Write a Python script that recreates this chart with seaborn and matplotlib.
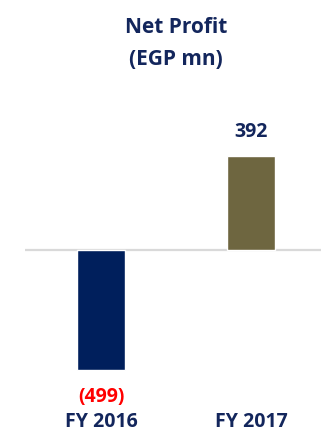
import matplotlib
matplotlib.use("Agg")
import matplotlib.pyplot as plt
import matplotlib.transforms as mtransforms
import seaborn as sns
import pandas as pd

categories = ["FY 2016", "FY 2017"]
net_profit = [-499, 392]
value_labels = ["(499)", "392"]
bar_colors = ["#001f5c", "#6e6640"]
label_colors = ["#ff0000", "#13265c"]

sns.set_theme(style="white")
plt.rcParams["font.family"] = ["Open Sans", "DejaVu Sans"]

navy = "#13265c"
W, H = 321, 433
fig = plt.figure(figsize=(W / 100, H / 100), dpi=100)

# axes box in pixels: left 25, right 321, top 100, bottom 380
ax = fig.add_axes([25 / W, 1 - 380 / H, 296 / W, 280 / H])

df = pd.DataFrame({"year": categories, "value": net_profit})
sns.barplot(data=df, x="year", y="value", hue="year", palette=bar_colors,
            width=0.32, legend=False, ax=ax, saturation=1, zorder=2)

px_per_unit = 94 / 392
ax.set_xlim(-76 / 150, 220 / 150)
ax.set_ylim(-130 / px_per_unit, 150 / px_per_unit)

ax.axhline(0, color="#d9d9d9", lw=1.6, zorder=1)

for s in ax.spines.values():
    s.set_visible(False)
ax.set_yticks([])
ax.set_xticks([])
ax.set_xlabel("")
ax.set_ylabel("")

font = dict(fontsize=14, fontweight="bold")

# value labels: 19 px above the positive bar, baseline 32 px below the negative one
for i, (v, lab, c) in enumerate(zip(net_profit, value_labels, label_colors)):
    off = 19 * 0.72 if v > 0 else -32 * 0.72
    ax.annotate(lab, (i, v), xytext=(0, off), textcoords="offset points",
                ha="center", va="baseline", color=c, annotation_clip=False, **font)

# category names along the bottom edge
trans = mtransforms.blended_transform_factory(ax.transData, fig.transFigure)
for i, cat in enumerate(categories):
    ax.text(i, 1 - 432 / H, cat, transform=trans, ha="center", va="bottom",
            color=navy, clip_on=False, **font)

fig.text(176 / W, 1 - 33 / H, "Net Profit", ha="center", va="baseline",
         color=navy, fontsize=15, fontweight="bold")
fig.text(176 / W, 1 - 65 / H, "(EGP mn)", ha="center", va="baseline",
         color=navy, fontsize=15, fontweight="bold")

fig.savefig("out.png", dpi=100)
